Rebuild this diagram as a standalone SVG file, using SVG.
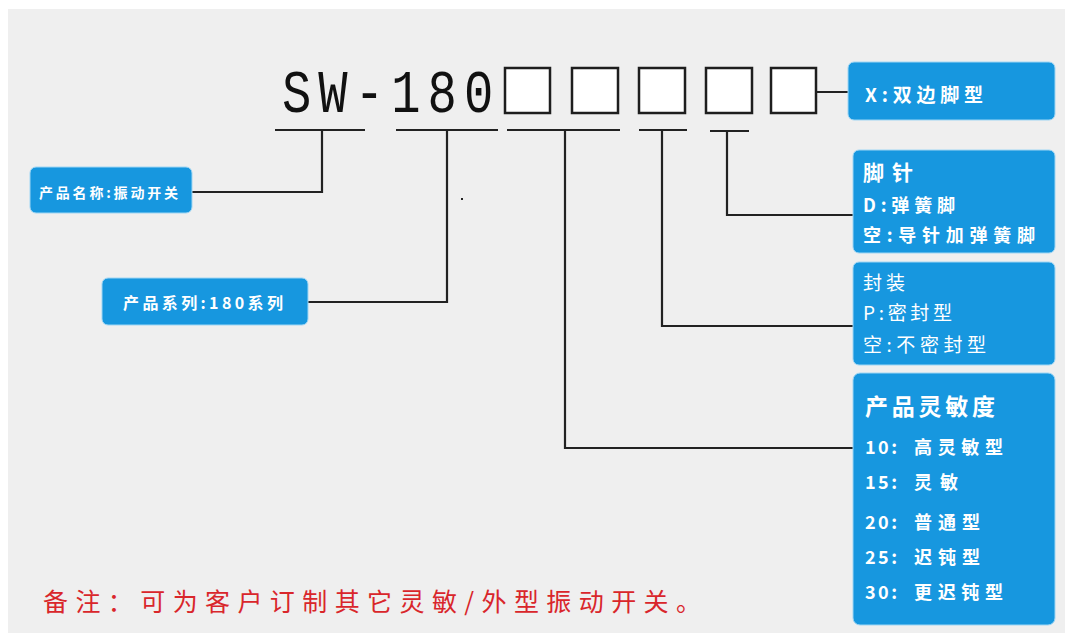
<svg xmlns="http://www.w3.org/2000/svg" width="1065" height="636" viewBox="0 0 1065 636">
<style>
.bg{fill:#efefef}
.nb{fill:#1797df;stroke:#9fd6f4;stroke-width:1}
.t{fill:#ffffff;font-family:"Noto Sans CJK SC","Liberation Sans",sans-serif}
.b{font-weight:bold}
.cell{fill:#ffffff;stroke:#1e1e1e;stroke-width:2.5}
.ln{fill:none;stroke:#222222;stroke-width:2.2}
</style>
<rect x="0" y="0" width="1065" height="636" fill="#ffffff"/>
<rect class="bg" x="8" y="9" width="1057" height="624"/>

<g id="code">
<text transform="translate(282,112) scale(0.8,1)" x="0" y="0" font-family="Liberation Mono, monospace" font-size="61" fill="#111111" textLength="264" lengthAdjust="spacing">SW-180</text>
<rect class="cell" x="505" y="68" width="45" height="45"/>
<rect class="cell" x="572" y="68" width="46" height="45"/>
<rect class="cell" x="639" y="68" width="46" height="45"/>
<rect class="cell" x="706" y="68" width="46" height="45"/>
<rect class="cell" x="771" y="68" width="45" height="45"/>
</g>

<g id="connectors">
<path class="ln" d="M816 92 H849"/>
<path class="ln" d="M275 130 H365 M322 130 V192 H192"/>
<path class="ln" d="M396 130 H498 M447 130 V302 H308"/>
<path class="ln" d="M507 130 H620 M565 130 V448 H853"/>
<path class="ln" d="M639 130 H687 M662 130 V326 H853"/>
<path class="ln" d="M710 131 H749 M727 131 V215 H853"/>
<rect x="461" y="198" width="2" height="2" fill="#222222"/>
</g>

<g id="node-name">
<rect class="nb" x="30" y="167" width="162" height="46" rx="6"/>
<text class="t b" x="39" y="198" font-size="14" textLength="139" lengthAdjust="spacing">产品名称:振动开关</text>
</g>

<g id="node-series">
<rect class="nb" x="102" y="278" width="206" height="47" rx="6"/>
<text class="t b" x="123" y="309" font-size="16" textLength="160" lengthAdjust="spacing">产品系列:180系列</text>
</g>

<g id="node-x">
<rect class="nb" x="848" y="62" width="207" height="58" rx="6"/>
<text class="t b" x="865" y="102" font-size="19" textLength="118" lengthAdjust="spacing">X:双边脚型</text>
</g>

<g id="node-pin">
<rect class="nb" x="853" y="150" width="202" height="103" rx="6"/>
<text class="t b" x="863" y="180" font-size="21" textLength="50" lengthAdjust="spacing">脚针</text>
<text class="t b" x="863" y="212" font-size="18" textLength="92" lengthAdjust="spacing">D:弹簧脚</text>
<text class="t b" x="863" y="242" font-size="18" textLength="172" lengthAdjust="spacing">空:导针加弹簧脚</text>
</g>

<g id="node-pack">
<rect class="nb" x="853" y="262" width="202" height="103" rx="6"/>
<text class="t" x="863" y="290" font-size="19" textLength="42" lengthAdjust="spacing">封装</text>
<text class="t" x="863" y="320" font-size="19" textLength="89" lengthAdjust="spacing">P:密封型</text>
<text class="t" x="863" y="352" font-size="19" textLength="123" lengthAdjust="spacing">空:不密封型</text>
</g>

<g id="node-sens">
<rect class="nb" x="853" y="373" width="202" height="252" rx="7"/>
<text class="t b" x="865" y="415" font-size="23" textLength="130" lengthAdjust="spacing">产品灵敏度</text>
<g class="t b" font-size="18">
<text x="865" y="454" textLength="32" lengthAdjust="spacing">10:</text><text x="914" y="454" textLength="89" lengthAdjust="spacing">高灵敏型</text>
<text x="865" y="489" textLength="32" lengthAdjust="spacing">15:</text><text x="914" y="489" textLength="44" lengthAdjust="spacing">灵敏</text>
<text x="865" y="529" textLength="32" lengthAdjust="spacing">20:</text><text x="914" y="529" textLength="66" lengthAdjust="spacing">普通型</text>
<text x="865" y="564" textLength="32" lengthAdjust="spacing">25:</text><text x="914" y="564" textLength="66" lengthAdjust="spacing">迟钝型</text>
<text x="865" y="599" textLength="32" lengthAdjust="spacing">30:</text><text x="914" y="599" textLength="89" lengthAdjust="spacing">更迟钝型</text>
</g>
</g>

<text x="43" y="611" font-family="Noto Sans CJK SC, Liberation Sans, sans-serif" font-size="25" fill="#d9262b" textLength="658" lengthAdjust="spacing">备注：可为客户订制其它灵敏/外型振动开关。</text>
</svg>
